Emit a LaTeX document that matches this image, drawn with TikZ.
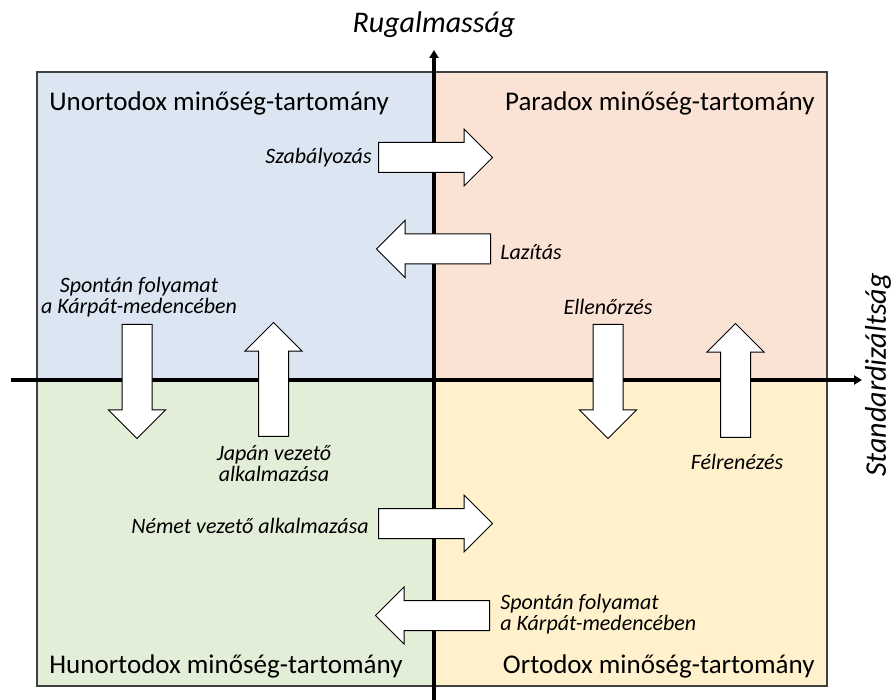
\documentclass[tikz,border=0pt]{standalone}
\usepackage{fontspec}
\setmainfont{Carlito}
\usetikzlibrary{shapes.arrows,arrows.meta}
\definecolor{qblue}{HTML}{DCE6F2}
\definecolor{qpeach}{HTML}{FAE3D5}
\definecolor{qgreen}{HTML}{E3EED9}
\definecolor{qyellow}{HTML}{FFF1CC}

\begin{document}
\begin{tikzpicture}[x=0.5pt,y=-0.5pt,
	quad/.style={draw=black!75,line width=0.6pt},
	axis/.style={line width=1.6pt,-{Triangle[length=4pt,width=4.5pt]}},
	blockarrow/.style={single arrow,draw=black,line width=0.5pt,fill=white,inner xsep=0pt,inner ysep=7.25pt,
		minimum height=57pt,minimum width=28pt,single arrow head extend=6.75pt},
	head/.style={font=\fontsize{13.5}{16}\selectfont,inner sep=0pt},
	lbl/.style={font=\fontsize{11}{10.5}\selectfont\itshape,inner sep=0pt},
	axlbl/.style={font=\fontsize{15}{18}\selectfont\itshape,inner sep=0pt}]
			\useasboundingbox (0,0) rectangle (895,700);
			\filldraw[quad,fill=qblue] (37,72) rectangle (434,380);
			\filldraw[quad,fill=qpeach] (434,72) rectangle (827,380);
			\filldraw[quad,fill=qgreen] (37,380) rectangle (434,686);
			\filldraw[quad,fill=qyellow] (434,380) rectangle (827,686);
			\coordinate (xfrom) at (11,380);
			\coordinate (xto) at (862,380);
			\coordinate (yfrom) at (434,700);
			\coordinate (yto) at (434,50);
			\draw[axis] (xfrom)--(xto);
			\draw[axis] (yfrom)--(yto);
			\node[axlbl] (rugal) at (434,25) {Rugalmasság};
			\node[axlbl,rotate=90] (stand) at (878,375) {Standardizáltság};
			\node[head,anchor=base west] (unort) at (49,111) {Unortodox minőség-tartomány};
			\node[head,anchor=base east] (parad) at (815,111) {Paradox minőség-tartomány};
			\node[head,anchor=base west] (hunort) at (49,673) {Hunortodox minőség-tartomány};
			\node[head,anchor=base east] (ortod) at (815,673) {Ortodox minőség-tartomány};
			\node[blockarrow,anchor=tail] (szab) at (378,157.5) {};
			\node[blockarrow,anchor=tail,rotate=180] (lazit) at (491,249) {};
			\node[blockarrow,anchor=tail,rotate=-90] (spontle) at (137,324) {};
			\node[blockarrow,anchor=tail,rotate=90] (japan) at (273.5,437) {};
			\node[blockarrow,anchor=tail,rotate=-90] (ellen) at (608,324) {};
			\node[blockarrow,anchor=tail,rotate=90] (felre) at (735.5,438) {};
			\node[blockarrow,anchor=tail] (nemet) at (378,523.5) {};
			\node[blockarrow,anchor=tail,rotate=180] (spontri) at (490,615.5) {};
			\node[lbl,anchor=east] (szabtx) at (372,158) {Szabályozás};
			\node[lbl,anchor=west] (lazittx) at (500,252) {Lazítás};
			\node[lbl,align=center] (spontletx) at (139,297) {Spontán folyamat\\a Kárpát-medencében};
			\node[lbl,align=center] (japantx) at (274,464) {Japán vezető\\alkalmazása};
			\node[lbl,anchor=east] (nemettx) at (369,526) {Német vezető alkalmazása};
			\node[lbl] (ellentx) at (608,307) {Ellenőrzés};
			\node[lbl] (felretx) at (737,462) {Félrenézés};
			\node[lbl,anchor=west,align=left] (spontritx) at (500,614) {Spontán folyamat\\a Kárpát-medencében};
		\end{tikzpicture}
\end{document}
